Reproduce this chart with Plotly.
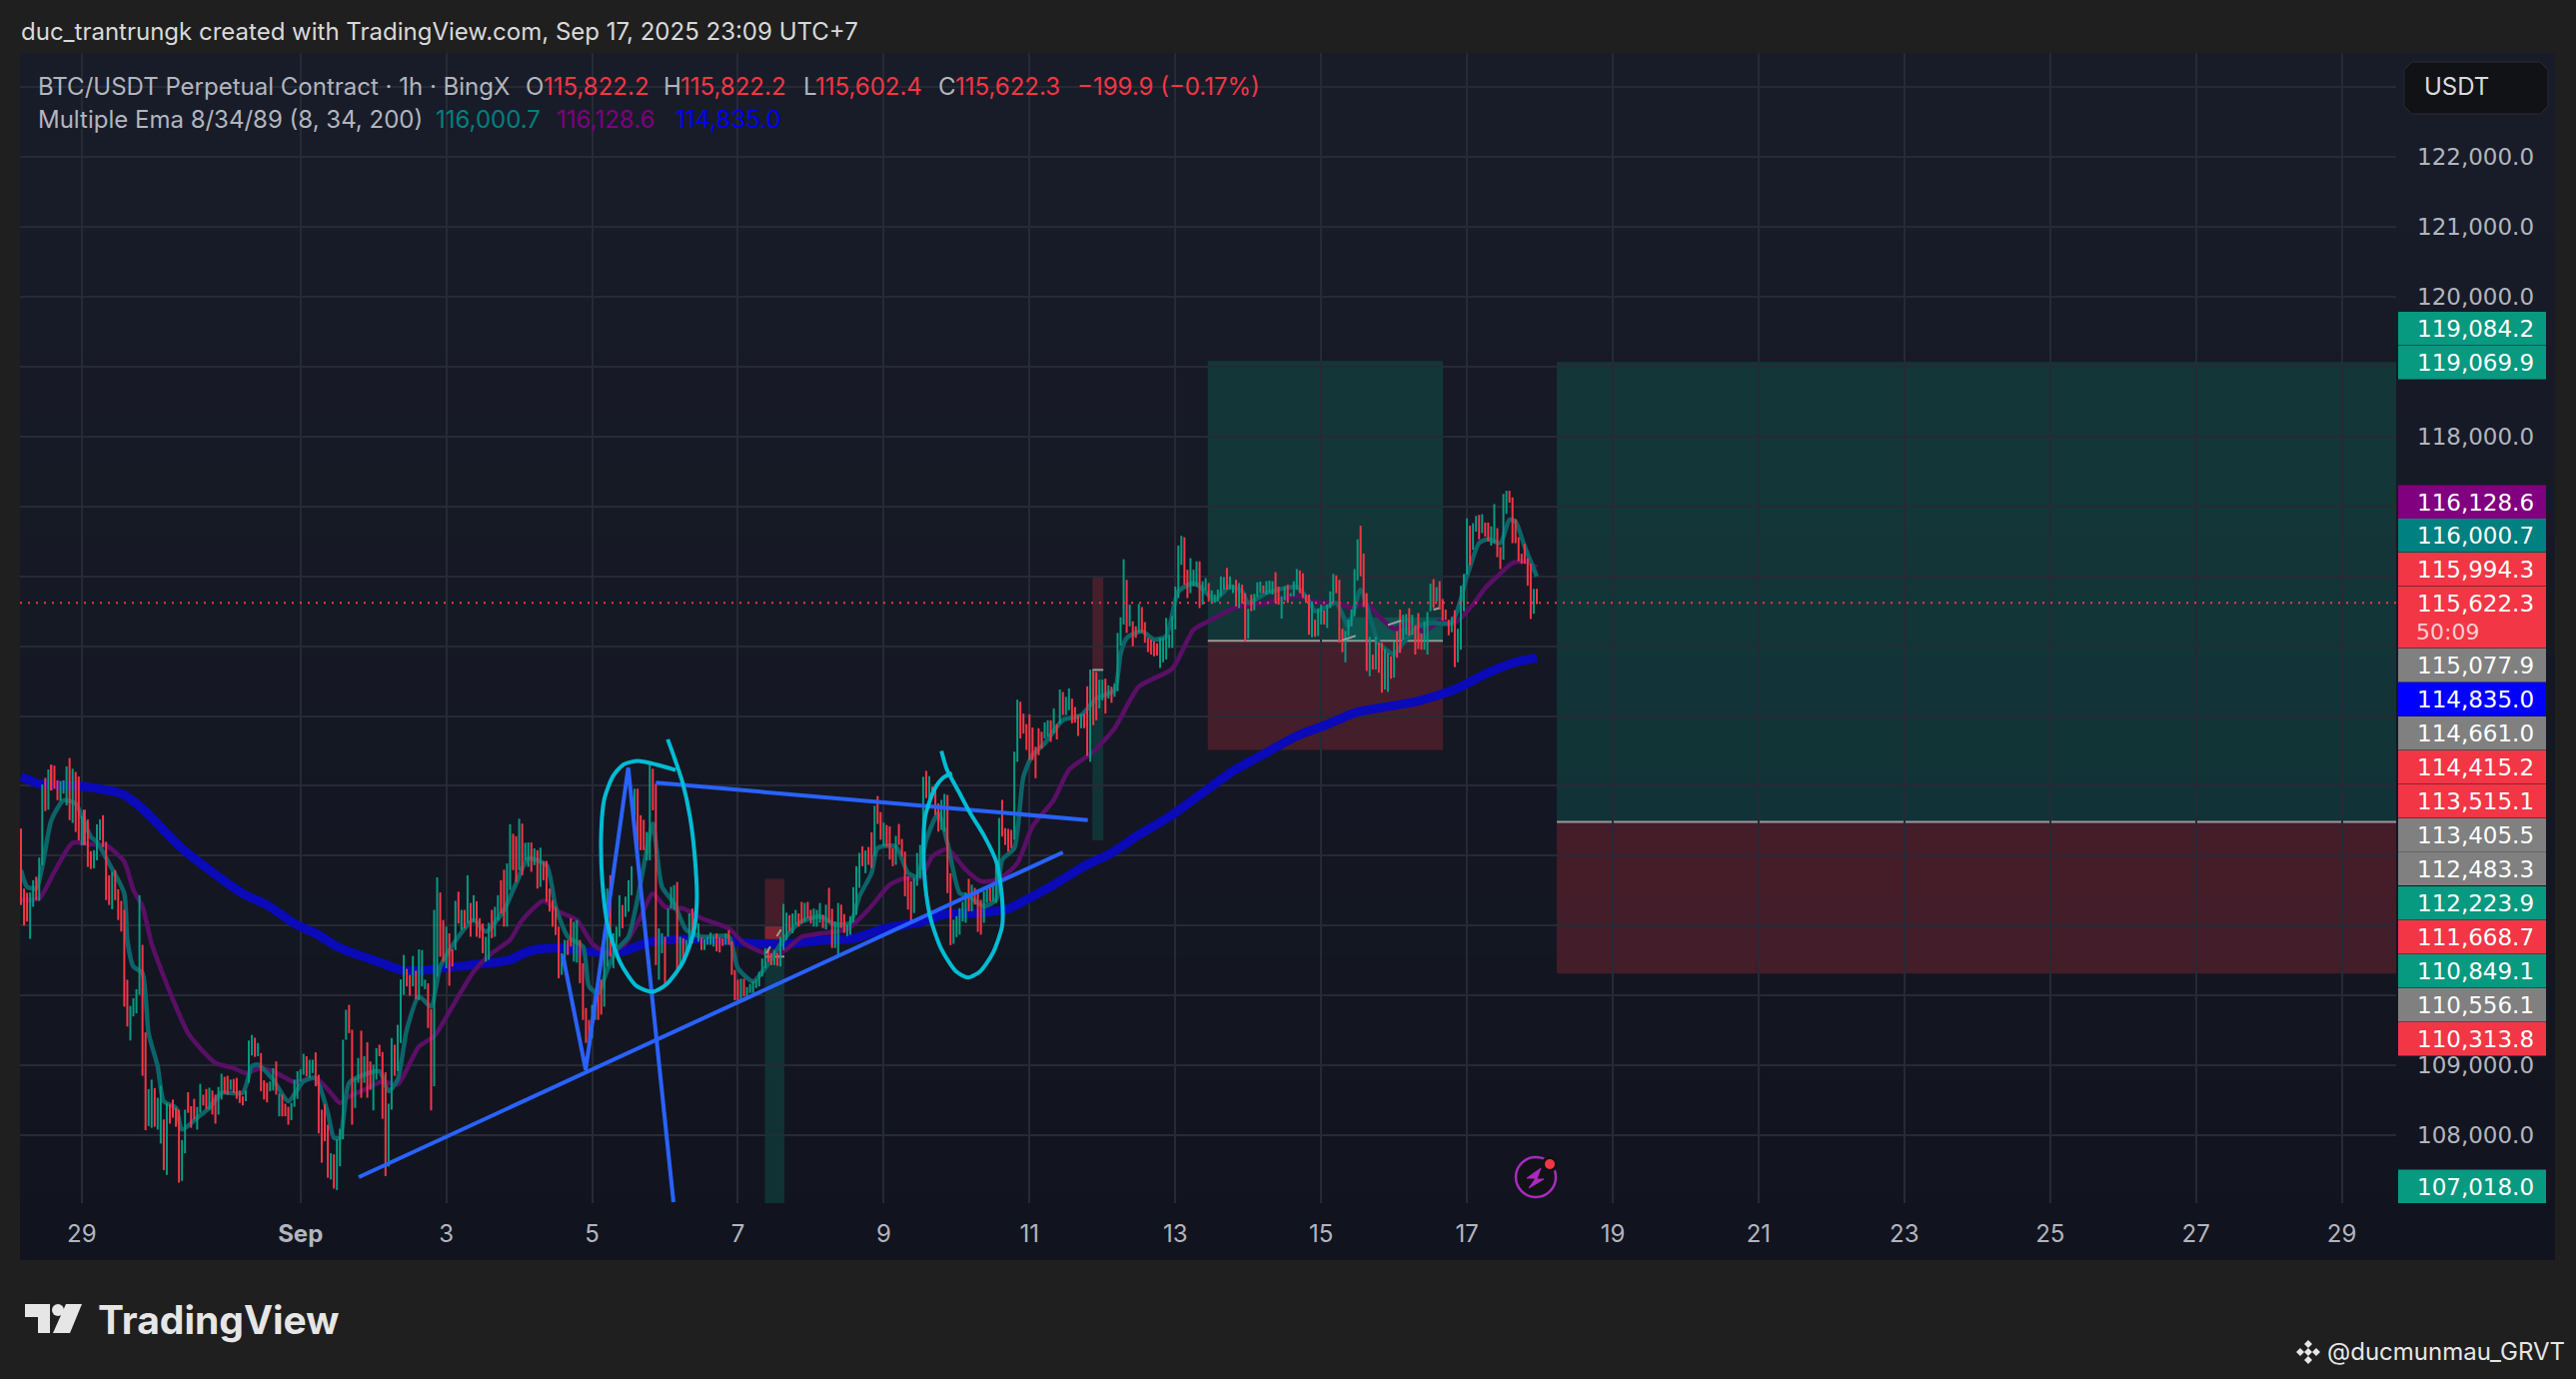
import pandas as pd
import plotly.graph_objects as go

# hourly bars, first one 28 Aug 04:00, last one 17 Sep 23:00
bar_high = [
112390,111530,111470,111475,111650,111700,111975,113020,113115,113235,
113305,113290,113080,113070,113080,113280,113400,113245,113200,113135,
112570,112660,112520,112065,112080,112450,112520,112580,112200,111720,
111770,111795,111520,111355,111225,110225,109850,109960,110090,111435,
110725,109470,108660,108795,108675,108535,108710,108225,108460,108440,
108510,108390,108365,107930,108365,108615,108415,108520,108405,108735,
108580,108660,108680,108640,108580,108690,108880,108835,108850,108795,
108805,108820,108640,108555,108640,109355,109435,109395,109320,109175,
108785,108750,108770,108960,109055,108595,108580,108450,108405,108460,
108795,108915,108945,109165,109130,109080,109080,109185,108865,108365,
108440,108150,107740,107725,107940,108090,109365,109795,109865,109510,
108820,109105,109495,109130,109330,109055,109010,109245,109295,109190,
108900,108450,109390,109295,109580,110230,110580,110380,110295,110565,
110355,110660,110650,110225,110175,109805,111225,111690,111475,111080,
110985,110890,110660,111355,111485,111225,111225,111720,111325,111435,
111350,111105,111030,110840,111040,111225,111270,111435,111650,111800,
111890,112450,112315,112280,112530,112460,112185,112190,112190,112105,
112080,112115,111915,111925,111530,111365,111270,110985,110605,110795,
110795,111105,111055,111080,110795,110460,109820,109650,109865,110035,
110055,110225,110700,111530,111720,110890,110985,111435,111295,111415,
111650,111850,112960,112960,112580,112515,112340,113315,113245,113030,
110960,110890,110840,111245,111555,111580,111625,110840,110820,110795,
111175,111245,111200,111030,110830,110805,110840,110900,110840,110890,
110830,110820,110890,110935,110775,110365,110225,110240,110240,110120,
110165,110200,110225,110340,110530,110675,110675,110605,110650,110605,
110840,111310,111185,111150,111175,111225,111175,111340,111325,111340,
111225,111245,111225,111325,111155,111300,111540,111240,111060,111325,
111300,111165,111015,111135,111550,111850,112040,112135,112075,112125,
112335,112715,112855,112625,112475,112440,112420,112110,112285,112455,
112240,112060,111705,111635,111680,112040,112155,113130,113215,113140,
112990,113015,112750,112800,112885,112870,111750,111085,111135,111250,
111340,111475,111670,111585,111540,111515,111370,111490,111540,111585,
111610,111945,112540,112800,112395,112385,112370,113490,114235,114205,
114035,113885,114025,113835,113560,113825,113775,113910,113940,113940,
114110,113885,114380,114345,114275,114395,114250,114130,114015,114025,
114035,114425,114665,114645,114630,114520,114520,114535,114440,114420,
114465,115190,115415,116245,115950,115595,115355,115285,115605,115560,
115345,115120,115095,115070,115040,115120,115120,115405,115165,115430,
115855,116440,116580,116560,116095,116260,116095,116215,116215,115930,
115975,115905,115800,115740,115810,116000,115990,116120,116000,115880,
115950,115905,115880,115760,115535,115740,115750,115915,115925,115870,
115930,115940,115930,116060,115855,115715,115855,115880,115760,115930,
116105,116085,116045,115740,115740,115640,115380,115535,115595,115510,
115595,115785,116035,116015,115950,115250,115220,115380,115525,116105,
116530,116725,116325,115760,115135,114880,115135,115050,115050,114960,
114905,114855,115070,115215,115525,115450,115460,115545,115450,115300,
115475,115180,115355,115490,115895,115960,115845,115930,115675,115525,
115380,115420,115515,115250,115865,116035,116830,116725,116760,116865,
116880,116890,116770,116770,116715,117035,116690,116420,117180,117225,
117225,117130,116820,116560,116325,116465,116260,116180,115820,115822]

bar_low = [
111295,111000,111060,110810,111270,111365,111355,111865,112640,112660,
112935,112960,112795,112785,112890,112720,112510,112470,112340,112220,
112150,112150,111840,111810,111820,111935,112220,112125,111365,111295,
111235,111365,111080,110915,109840,109555,109355,109700,109745,110010,
108850,108070,108130,108105,108120,108080,107880,107500,107430,108165,
108250,108120,107320,107345,107740,108320,108105,108225,108080,108320,
108425,108375,108365,108295,108165,108295,108510,108595,108580,108650,
108605,108520,108460,108425,108485,108750,109140,109120,109130,108630,
108510,108470,108630,108640,108580,108270,108270,108270,108150,108215,
108405,108520,108770,108865,108840,108820,108890,108700,108025,107605,
107915,107390,107365,107235,107215,107555,107940,109365,109460,108150,
108390,108750,108535,108750,108535,108650,108355,108795,109130,108235,
107415,107550,108365,108850,108915,109320,110010,110130,109995,110130,
109945,109935,110130,110090,109535,108355,108700,110270,110555,110485,
110390,110140,110415,110650,111030,110935,110960,111030,110840,111055,
110840,110820,110605,110485,110510,110820,110840,111080,111175,110985,
110985,111510,111795,111625,111795,111720,111935,111840,111770,111865,
111530,111555,111650,111340,111200,110985,110865,110245,110295,110365,
110580,110700,110485,110470,110175,109650,109320,109295,109390,109650,
109650,109725,109840,110415,110555,110390,110700,110840,110960,111125,
111200,111435,112315,112080,112080,112080,111935,111935,112650,110435,
110225,110605,110130,110840,111245,111225,110320,110415,110485,110605,
110675,110745,110960,110770,110650,110650,110725,110725,110700,110630,
110615,110710,110725,110725,110295,109930,109915,109935,109985,109985,
110035,110035,110105,110130,110270,110390,110485,110435,110435,110425,
110415,110650,110795,110915,110890,111010,110985,111030,111055,111105,
111030,110985,110985,111040,110965,110945,111040,110680,110680,110560,
110965,110895,110850,110870,111050,111155,111540,111850,111750,111870,
111825,111990,112455,112230,112135,112135,111945,111850,111870,112155,
111990,111420,111230,111060,111180,111570,111680,111990,112825,112705,
112845,112585,112345,112370,112345,111465,110720,110740,110835,110870,
111060,111040,111205,111205,111300,110910,110870,111040,111325,111345,
111345,111325,111655,112275,112155,112060,112110,112230,113345,113680,
113750,113515,113370,113370,113110,113440,113535,113680,113705,113630,
113750,113665,113895,114015,114015,114085,113895,113905,113715,113825,
113825,113430,113345,113870,113940,114110,114225,114035,114250,114190,
114275,114355,115010,115310,115190,115285,115000,115120,115190,115190,
115050,114915,114880,114855,114865,114690,114770,114810,114975,114975,
115240,115690,116165,115880,115690,115760,115855,115855,115545,115595,
115800,115640,115610,115620,115640,115715,115810,115810,115810,115760,
115570,115545,115610,115070,115110,115500,115515,115705,115760,115760,
115740,115760,115740,115620,115595,115395,115655,115620,115715,115715,
115810,115760,115690,115620,115165,115130,115135,115145,115310,115310,
115260,115545,115620,115760,115050,114915,114770,115145,115285,115430,
115940,116000,115560,114645,114570,114665,114665,114620,114335,114380,
114345,114535,114550,114835,114905,115095,115165,115150,115165,114880,
114960,114950,114950,114880,115500,115545,115640,115525,115365,115380,
115155,115200,114700,114770,114950,115500,116025,116160,116380,116640,
116530,116620,116570,116500,116440,116475,116275,116105,116240,116895,
117055,116475,116475,116215,116180,116180,115865,115390,115465,115602]

bar_dir = ("rrrggrggrg" "rrrgggrgrr" "grrrgggrrr" "grrrrrgggg" "rrggrggrgr"
           "rrrggrrrgg" "rrgrrggrrg" "rrrrgggrgr" "rrggrgrrrg" "ggggrggrrr"
           "rrgrggggrr" "ggrgrrggrr" "rggrgggrrg" "rgggrrggrr" "grrgrgrgrg"
           "rrrggrggrr" "ggrrgrggrg" "rgrrrrrrgg" "rrggrrrrgg" "rrggrgggrg"
           "gggrrrggrr" "ggrgggrgrg" "grrgrggggr" "rrgrrrrgrg" "ggggggrrgr"
           "gggrggrrgr" "rgggrgrrgg" "rrgggggrgr" "rgrrgrrrgr" "rrrrggggrg"
           "rrrggrrggg" "ggrgrrrggr" "gggrrrrggr" "rrrrrrrggr" "grgrggrrrg"
           "rrgrrggrgr" "ggggrgrrgr" "rrrrrggggg" "gggrrgggrg" "grgggggrgg"
           "rgrrgrgggr" "gggrrggrgg" "grrrrgrggr" "gggrrrgggg" "grrrgrgrrg"
           "grgrrggrgr" "rrgggrgrrr" "rgrggggrgg" "rgrrggrrgg" "rrrrrrrrgr")

# ema lines, read at these bar numbers
ema200_bar = [0,6,19,33,40,47,53,61,68,74,81,90,98,104,111,119,125,131,142,153,161,167,173,179,186,191,199,207,217,230,241,252,263,274,285,296,305,316,325,329,340,350,359,368,379,388,394,400,410,420,430,440,450,460,472,483,492,499]
ema200_val = [113135,113030,113000,112890,112675,112365,112105,111830,111605,111435,111295,111030,110865,110700,110580,110460,110365,110355,110405,110460,110510,110630,110675,110675,110630,110615,110640,110770,110805,110795,110745,110735,110790,110815,110965,111050,111170,111180,111240,111325,111585,111850,112040,112300,112585,112870,113060,113240,113475,113715,113880,114060,114135,114215,114380,114620,114770,114835]

ema34_bar = [0,6,11,17,23,28,34,37,40,43,47,51,55,59,64,70,74,79,83,90,97,102,105,108,113,119,124,127,131,136,142,149,155,161,165,172,177,183,188,193,199,204,208,212,218,224,233,238,245,251,257,263,272,279,286,291,296,300,305,311,316,322,328,333,340,345,353,360,368,379,386,391,396,401,410,420,427,434,438,443,447,452,456,462,467,472,478,482,486,491,495,499]
ema34_val = [111365,111390,111770,112185,112165,112150,111915,111510,111270,110745,110270,109840,109460,109245,109035,108960,108890,108960,108915,108760,108820,108605,108460,108555,108650,108770,108725,108940,109270,109415,109840,110340,110605,110795,111080,111355,111200,111080,110745,110605,110745,111127,111460,111270,111245,111105,110960,110745,110605,110630,110840,110885,110950,111230,111585,111680,111680,111990,112095,111800,111635,111665,111895,112420,112800,113230,113490,113825,114420,114680,115238,115357,115476,115571,115619,115714,115628,115609,115547,115609,115428,115248,115309,115214,115357,115333,115595,115833,116000,116190,116214,116128]

ema8_bar = [0,2,5,7,10,14,18,23,25,29,34,35,37,40,42,45,47,51,53,58,62,66,73,76,78,83,88,93,97,101,103,105,108,113,118,121,124,127,131,135,138,144,149,153,159,163,167,173,176,180,185,187,190,193,196,200,206,208,211,215,219,224,233,236,241,245,251,256,263,268,273,276,280,282,288,292,295,298,302,305,309,312,317,321,323,327,330,333,337,343,349,354,360,362,364,369,373,377,381,386,388,393,398,402,404,410,420,424,426,429,433,437,441,445,447,452,455,460,464,471,476,480,483,487,490,492,495,499]
ema8_val = [111795,111555,111532,111841,112508,112793,112746,112270,112198,111889,111461,110794,110413,110318,109461,108985,108486,108390,108081,108248,108390,108605,108605,108985,109009,108795,108486,108771,108819,108319,107962,107962,108747,108866,108914,108628,108795,109509,109985,109842,110413,110842,111080,110913,111223,111604,111960,111865,111270,110842,110699,110128,110033,110366,110651,110842,112079,112460,111556,111318,110937,110842,110842,110390,110199,110390,110794,111032,111133,111014,111038,111419,111752,112109,112133,111752,111700,112228,112609,112180,111466,111419,111276,111371,111942,112109,113132,113442,113608,113942,114013,114251,114370,114894,115119,115214,115095,115143,115785,115904,115857,115666,115857,115785,115619,115762,115847,115643,115500,115547,115619,115286,115809,115286,115048,114881,115048,115286,115333,115333,116000,116476,116533,116476,116809,116785,116428,116000]

# hand drawn stuff, x is a bar number (can be past the last bar), y is price
trend_bar = [111.2, 343.0]
trend_price = [107399, 112049]
upper_bar = [209.0, 351.2]
upper_price = [113046, 112511]
vee_bar = [178.3, 185.9, 199.9, 214.8]
vee_price = [110589, 108934, 113260, 107041]
loop1_bar = [212.9,214.9,217.8,220.2,221.7,222.5,221.4,217.8,212.5,207.8,202.6,197.3,193.2,191.4,191.0,192.0,194.9,198.4,203.1,209.0,215.5]
loop1_price = [113666,113427,113046,112569,112044,111376,110900,110470,110160,110051,110136,110470,110995,111615,112330,112807,113141,113308,113356,113308,113227]
loop2_bar = [303.0,304.8,308.9,312.4,317.1,321.2,323.0,323.0,320.0,315.9,311.8,307.7,303.0,299.5,297.7,297.1,297.7,300.7,303.6,306.5]
loop2_price = [113499,113236,112903,112616,112283,111901,111376,110995,110613,110351,110256,110351,110661,111090,111567,112092,112569,112950,113117,113179]

# position tools: left bar, right bar, top, entry, bottom, top colour
position_left = [244.9, 352.7, 390.7, 505.6]
position_right = [251.3, 356.3, 468.1, 800.0]
position_top = [111668.7, 115994.3, 119084.2, 119069.9]
position_entry = [110556.1, 114661.0, 115077.9, 112483.3]
position_bottom = [107018.0, 112223.9, 113515.1, 110313.8]

price_ticks = list(range(108000, 124000, 1000))
# the rest of the tick labels are hidden behind the coloured price labels
shown_ticks = [108000, 109000, 118000, 120000, 121000, 122000]
date_ticks = ["2025-08-29", "2025-09-01", "2025-09-03", "2025-09-05", "2025-09-07", "2025-09-09", "2025-09-11", "2025-09-13", "2025-09-15", "2025-09-17", "2025-09-19", "2025-09-21", "2025-09-23", "2025-09-25", "2025-09-27", "2025-09-29"]
date_labels = ["29", "<b>Sep</b>", "3", "5", "7", "9", "11", "13", "15", "17", "19", "21", "23", "25", "27", "29"]

label_text = ["119,084.2", "119,069.9", "116,128.6", "116,000.7", "115,994.3", "115,622.3", "115,077.9", "114,835.0", "114,661.0", "114,415.2", "113,515.1", "113,405.5", "112,483.3", "112,223.9", "111,668.7", "110,849.1", "110,556.1", "110,313.8", "107,018.0"]
last_price = 115622.3

GREEN = "#089981"
RED = "#F23645"
GREY = "#808080"
label_color = [GREEN, GREEN, "#800080", "#008080", RED, RED, GREY, "#0000FF", GREY, RED, RED, GREY, GREY, GREEN, RED, GREEN, GREY, RED, GREEN]
label_top = [312, 346, 485.5, 519, 553, 587, 649, 683, 717, 751, 785, 819, 852.5, 887, 921, 955, 989, 1023, 1170.5]

TEXT = "#B2B5BE"
GRID = "#262A35"
FONT = "Inter"
AXIS_FONT = "DejaVu Sans"

# plot area in the page
L, R, T, B = 20, 2398, 53, 1204


def bar_time(i):
    return (pd.Timestamp("2025-08-28 04:00") + pd.Timedelta(hours=i)).isoformat()


def fx(px):
    return (px - L) / (R - L)


def fy(py):
    return (B - py) / (B - T)


def poly(points):
    return "M " + " L ".join("%.5f,%.5f" % (fx(x), fy(y)) for x, y in points) + " Z"


def label(px, py, text, color=TEXT, size=24, anchor="left", family=FONT):
    fig.add_annotation(x=fx(px), y=fy(py), xref="paper", yref="paper", text=text, showarrow=False,
                       xanchor=anchor, yanchor="middle", align="left",
                       font=dict(family=family, size=size, color=color), borderpad=0)


def box(x0, y0, x1, y1, color):
    fig.add_shape(type="rect", xref="paper", yref="paper", x0=fx(x0), x1=fx(x1), y0=fy(y0), y1=fy(y1),
                  fillcolor=color, line_width=0)


def drawing(xs, ys, color, width=4, smooth=False):
    fig.add_trace(go.Scatter(x=[bar_time(i) for i in xs], y=ys, mode="lines", hoverinfo="skip", zorder=3,
                             line=dict(color=color, width=width, shape="spline" if smooth else "linear", smoothing=0.7)))


times = [bar_time(i) for i in range(len(bar_high))]

fig = go.Figure()

# panel behind everything, it gets slightly darker going down
for n in range(20):
    top = 53 + n * (1260 - 53) / 20
    fig.add_shape(type="rect", xref="paper", yref="paper", layer="below", x0=fx(20), x1=fx(2557),
                  y0=fy(top), y1=fy(top + (1260 - 53) / 20 + 1), line_width=0,
                  fillcolor="rgb(%d,%d,%d)" % (24 - n * 7 // 19, 28 - n * 8 // 19, 40 - n * 9 // 19))

for i in range(len(position_left)):
    x0, x1 = bar_time(position_left[i]), bar_time(position_right[i])
    if i < 2:
        upper, lower = "rgba(242,54,69,0.22)", "rgba(8,153,129,0.22)"
    else:
        upper, lower = "rgba(8,153,129,0.22)", "rgba(242,54,69,0.22)"
    fig.add_shape(type="rect", x0=x0, x1=x1, y0=position_entry[i], y1=position_top[i], fillcolor=upper, line_width=0, layer="below")
    fig.add_shape(type="rect", x0=x0, x1=x1, y0=position_bottom[i], y1=position_entry[i], fillcolor=lower, line_width=0, layer="below")
    fig.add_shape(type="line", x0=x0, x1=x1, y0=position_entry[i], y1=position_entry[i], line=dict(color="#9a9a9a", width=2), layer="below")

# brighter bits where price went past the entry
fig.add_shape(type="rect", x0=bar_time(435), x1=bar_time(468.1), y0=115077.9, y1=115415, fillcolor="rgba(8,153,129,0.3)", line_width=0, layer="below")
fig.add_shape(type="rect", x0=bar_time(244.9), x1=bar_time(251.3), y0=110810, y1=110990, fillcolor="rgba(242,54,69,0.35)", line_width=0, layer="below")

fig.add_trace(go.Scatter(x=[bar_time(i) for i in ema200_bar], y=ema200_val, mode="lines", hoverinfo="skip", zorder=1,
                         line=dict(color="#0A0AB8", width=9, shape="spline", smoothing=0.6)))
fig.add_trace(go.Scatter(x=[bar_time(i) for i in ema34_bar], y=ema34_val, mode="lines", hoverinfo="skip", zorder=1,
                         line=dict(color="#5A0F66", width=4.5, shape="spline", smoothing=0.6)))
fig.add_trace(go.Scatter(x=[bar_time(i) for i in ema8_bar], y=ema8_val, mode="lines", hoverinfo="skip", zorder=1,
                         line=dict(color="#0C6468", width=4.5, shape="spline", smoothing=0.6)))

# at this zoom a candle is 2px wide, body and wick can't be told apart, so each is one floating bar
fig.add_trace(go.Bar(x=times, y=[h - l for h, l in zip(bar_high, bar_low)], base=bar_low, zorder=2,
                     width=2368421, hoverinfo="skip", marker=dict(line_width=0, color=[GREEN if d == "g" else RED for d in bar_dir])))

drawing(trend_bar, trend_price, "#2962FF")
drawing(upper_bar, upper_price, "#2962FF")
drawing(vee_bar, vee_price, "#2962FF")
drawing(loop1_bar, loop1_price, "#00BCD4", smooth=True)
drawing(loop2_bar, loop2_price, "#00BCD4", smooth=True)
# grey dashed line inside the position tools
drawing([435, 466.8], [115086, 115547], "#9a9a9a", width=2)
fig.data[-1].line.dash = "14px,34px"
drawing([245.3, 250.8], [110604, 110985], "#9a9a9a", width=2)
fig.data[-1].line.dash = "8px,12px"

fig.add_shape(type="line", xref="paper", x0=0, x1=1, y0=last_price, y1=last_price, line=dict(color=RED, width=2, dash="2px,6px"))

# price labels on the axis
for text, color, top in zip(label_text, label_color, label_top):
    box(2400, top, 2548, top + 33.5, color)
box(2400, 620, 2548, 648.5, RED)
for text, color, top in zip(label_text, label_color, label_top):
    label(2418, top + 17, text, "#FFFFFF", 23, family=AXIS_FONT)
label(2417, 632, "50:09", "rgba(255,255,255,0.75)", 22, family=AXIS_FONT)

# currency button
fig.add_shape(type="path", xref="paper", yref="paper", fillcolor="#111216", line=dict(color="#2A2A35", width=1),
              path=poly([(2414, 62), (2542, 62), (2550, 70), (2550, 106), (2542, 114), (2414, 114), (2406, 106), (2406, 70)]))
label(2425, 87, "USDT", "#DBDBDB", 24)

# header and legend text
label(20, 32, "duc_trantrungk created with TradingView.com, Sep 17, 2025 23:09 UTC+7", "#D9D9D9", 24)
label(37, 87, "BTC/USDT Perpetual Contract · 1h · BingX")
label(525, 87, "O")
label(543, 87, "115,822.2", RED)
label(663, 87, "H")
label(680, 87, "115,822.2", RED)
label(803, 87, "L")
label(815, 87, "115,602.4", RED)
label(938, 87, "C")
label(955, 87, "115,622.3", RED)
label(1077, 87, "−199.9 (−0.17%)", RED)
label(37, 120, "Multiple Ema 8/34/89 (8, 34, 200)")
label(435, 120, "116,000.7", "#008080")
label(556, 120, "116,128.6", "#800080")
label(675, 120, "114,835.0", "#0000FF")

# lightning badge
fig.add_shape(type="circle", xref="paper", yref="paper", x0=fx(1517), x1=fx(1557), y0=fy(1158), y1=fy(1198), fillcolor="#111218", line=dict(color="#A92BBE", width=2.5))
fig.add_shape(type="path", xref="paper", yref="paper", fillcolor="#A92BBE", line=dict(color="#A92BBE", width=1),
              path=poly([(1542, 1169), (1528, 1179), (1537, 1179), (1530, 1189), (1545, 1180), (1538, 1180)]))
fig.add_shape(type="circle", xref="paper", yref="paper", x0=fx(1543), x1=fx(1559), y0=fy(1157), y1=fy(1173), fillcolor="#111218", line_width=0)
fig.add_shape(type="circle", xref="paper", yref="paper", x0=fx(1546), x1=fx(1556), y0=fy(1160), y1=fy(1170), fillcolor=RED, line_width=0)

# TradingView logo
fig.add_shape(type="path", xref="paper", yref="paper", fillcolor="#E6E6E6", line_width=0,
              path=poly([(25, 1305), (50, 1305), (50, 1334), (38, 1334), (38, 1318), (25, 1318)]))
fig.add_shape(type="circle", xref="paper", yref="paper", x0=fx(52), x1=fx(64), y0=fy(1305), y1=fy(1317), fillcolor="#E6E6E6", line_width=0)
fig.add_shape(type="path", xref="paper", yref="paper", fillcolor="#E6E6E6", line_width=0,
              path=poly([(66, 1305), (82, 1305), (70, 1334), (53, 1334)]))
label(97, 1320, "<b>TradingView</b>", "#E6E6E6", 39)

# uploader mark
for cx, cy in [(2310, 1345), (2310, 1361), (2302, 1353), (2318, 1353), (2310, 1353)]:
    fig.add_shape(type="path", xref="paper", yref="paper", fillcolor="#E6E6E6", line_width=0,
                  path=poly([(cx, cy - 4), (cx + 4, cy), (cx, cy + 4), (cx - 4, cy)]))
label(2328, 1352, "@ducmunmau_GRVT", "#E6E6E6", 24)

fig.update_layout(
    width=2578, height=1380, autosize=False, showlegend=False, barmode="overlay",
    margin=dict(l=L, r=2578 - R, t=T, b=1380 - B, pad=0, autoexpand=False),
    paper_bgcolor="#1F1F1F", plot_bgcolor="rgba(0,0,0,0)",
    font=dict(family=FONT, size=24, color=TEXT),
    xaxis=dict(type="date", range=["2025-08-28 03:40", "2025-09-29 17:54"],
               tickmode="array", tickvals=date_ticks, ticktext=date_labels, tickangle=0,
               showgrid=True, gridcolor=GRID, gridwidth=2, zeroline=False, showline=False, ticks="",
               ticklabelstandoff=14, tickfont=dict(family=FONT, size=24, color=TEXT)),
    yaxis=dict(range=[107027, 123493], side="right", tickmode="array", tickvals=price_ticks,
               ticktext=["{:,.1f}".format(p) if p in shown_ticks else "" for p in price_ticks],
               showgrid=True, gridcolor=GRID, gridwidth=2, zeroline=False, showline=False, ticks="",
               ticklabelstandoff=20, tickfont=dict(family=AXIS_FONT, size=23, color=TEXT)),
)

fig.write_html("out.html", config={"displayModeBar": False},
               post_script="document.body.style.margin='0';document.body.style.overflow='hidden';document.body.style.background='#1F1F1F';")
